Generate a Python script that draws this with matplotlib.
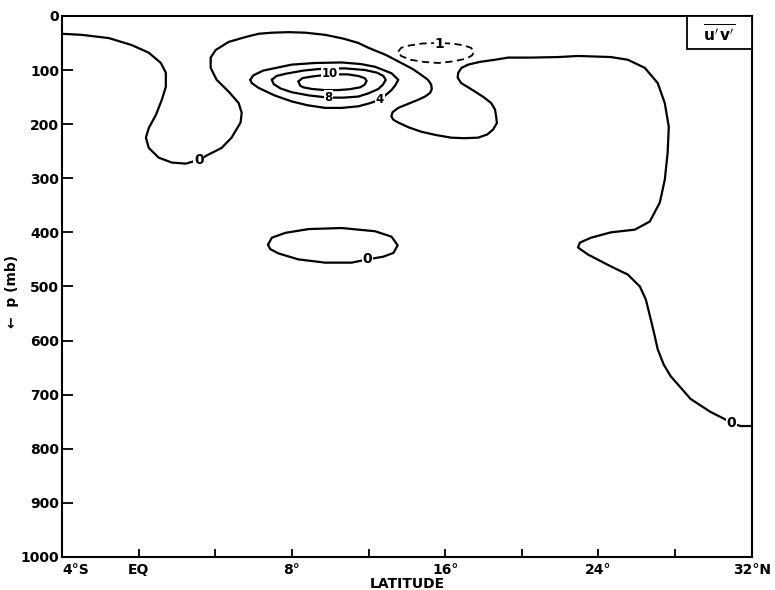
#!/usr/bin/env python3
"""
Meridional cross-section of u'v' (eddy momentum flux), latitude vs pressure
"""
import matplotlib
matplotlib.use('Agg')
import matplotlib.pyplot as plt
from matplotlib.patches import Rectangle

plt.rcParams['font.family'] = ['DejaVu Sans']
plt.rcParams['mathtext.fontset'] = 'dejavusans'

# ── Contour traces: (latitude, pressure mb) ──
zero_main_lat = [-4.0, -2.96, -1.55, -0.35, 0.53, 1.16, 1.42, 1.42, 1.21, 0.9, 0.53, 0.38, 0.53,
                 1.05, 1.73, 2.46, 3.14, 3.66, 4.33, 4.85, 5.32, 5.38, 5.22, 4.7, 4.07, 3.76,
                 3.76, 4.02, 4.7, 5.58, 6.26, 6.94, 7.82, 8.71, 9.75, 10.69, 11.47, 12.0, 12.9,
                 13.71, 14.3, 14.75, 15.1, 15.27, 15.3, 15.22, 14.95, 14.59, 14.1, 13.55, 13.25,
                 13.19, 13.3, 13.55, 14.1, 14.75, 15.5, 16.31, 17.0, 17.72, 18.2, 18.5, 18.7,
                 18.66, 18.6, 18.4, 18.0, 17.56, 17.2, 16.83, 16.65, 16.68, 16.85, 17.2, 17.8,
                 18.6, 19.28, 20.48, 21.9,
                 22.93, 24.65, 25.53, 26.42, 27.09, 27.46, 27.67, 27.61, 27.46, 27.2, 26.68,
                 25.9, 24.65, 23.6, 23.03, 22.93, 23.45, 24.65, 25.53, 26.16, 26.47, 26.73,
                 26.94, 27.09, 27.4, 27.77, 28.81, 29.85, 30.58, 30.95, 31.42, 32.0]
zero_main_p = [33, 35, 41, 54, 68, 87, 105, 131, 155, 183, 207, 225, 244,
               262, 271, 273, 266, 256, 244, 225, 197, 179, 161, 140, 118, 96,
               77, 63, 48, 39, 33, 31, 30, 31, 35, 42, 50, 59, 72,
               87, 98, 109, 118, 127, 135, 142, 149, 155, 162, 170, 178,
               186, 192, 197, 206, 214, 220, 225, 226, 225, 219, 210, 198,
               186, 173, 161, 150, 140, 132, 124, 114, 105, 96, 90, 85,
               81, 77, 77, 76,
               74, 76, 81, 96, 124, 161, 205, 253, 303, 345, 380,
               395, 400, 410, 419, 428, 441, 463, 478, 500, 524, 561,
               592, 616, 644, 666, 708, 732, 745, 753, 758, 758]

zero_cell_lat = [6.75, 6.95, 7.65, 8.86, 10.6, 12.34, 13.2, 13.52, 13.3, 12.77, 11.94,
                 11.12, 9.73, 8.34, 7.3, 6.87, 6.75]
zero_cell_p = [423, 410, 401, 394, 392, 398, 408, 424, 438, 445, 450,
               456, 456, 450, 439, 431, 423]

four_lat = [5.83, 5.98, 6.5, 7.99, 9.2, 10.6, 11.6, 12.34, 13.2, 13.55, 13.4, 13.2, 12.6,
            12.0, 11.47, 10.6, 9.73, 8.8, 7.99, 7.1, 6.26, 5.9, 5.83]
four_p = [118, 110, 101, 90, 87, 86, 89, 94, 106, 118, 128, 137, 155,
          162, 167, 170, 170, 165, 158, 147, 133, 124, 118]

eight_lat = [6.95, 7.2, 7.65, 8.6, 9.73, 10.8, 11.82, 12.45, 12.77, 12.9, 12.75, 12.51, 12.0,
             11.47, 10.7, 9.91, 8.9, 7.99, 7.4, 7.05, 6.95]
eight_p = [118, 111, 107, 101, 97, 97, 100, 105, 111, 118, 127, 135, 143,
           149, 151, 151, 147, 141, 134, 126, 118]

ten_lat = [8.34, 8.55, 9.04, 10.0, 10.9, 11.47, 11.8, 11.9, 11.8, 11.56, 11.0, 10.43, 9.7,
           9.04, 8.6, 8.43, 8.34]
ten_p = [121, 115, 112, 108, 108, 111, 115, 120, 127, 132, 135.5, 137, 137,
         135, 132, 129, 121]

neg_one_lat = [13.55, 13.7, 14.07, 14.8, 15.64, 16.3, 16.94, 17.35, 17.51, 17.4, 17.1, 16.4,
               15.64, 14.9, 14.18, 13.7, 13.55]
neg_one_p = [66, 59, 55, 51, 50, 51, 54, 59, 66, 73, 79, 84, 87, 85, 81, 74, 66]

# contour labels: (text, lat, p)
label_text = ['0', '0', '0', '10', '8', '4', '1']
label_lat = [3.14, 11.94, 30.95, 10.0, 9.91, 12.6, 15.69]
label_p = [266, 450, 753, 106, 151, 155, 51]

lat_ticks = [-4, 0, 4, 8, 12, 16, 20, 24, 28, 32]
lat_ticklabels = ['4°S', 'EQ', '', '8°', '', '16°', '', '24°', '', '32°N']
p_ticks = list(range(0, 1001, 100))

# ── Plot ──
fig = plt.figure(figsize=(7.75, 5.9), dpi=100)
ax = fig.add_axes([0.080, 0.056, 0.890, 0.917])

line_kw = dict(color='black', linewidth=1.6, solid_joinstyle='round', solid_capstyle='round')
for xs, ys in [(zero_main_lat, zero_main_p), (zero_cell_lat, zero_cell_p),
               (four_lat, four_p), (eight_lat, eight_p), (ten_lat, ten_p)]:
    ax.plot(xs, ys, **line_kw)
ax.plot(neg_one_lat, neg_one_p, color='black', linewidth=1.3, linestyle=(0, (4, 2.5)))

for txt, x, y in zip(label_text, label_lat, label_p):
    fs = 10 if txt in ('0', '1') else 8.5
    ax.text(x, y, txt, ha='center', va='center', fontsize=fs, fontweight='bold',
            bbox=dict(facecolor='white', edgecolor='none', pad=0.6), zorder=5)

ax.set_xlim(-4, 32)
ax.set_ylim(1000, 0)
ax.set_xticks(lat_ticks)
ax.set_xticklabels(lat_ticklabels, fontsize=10, fontweight='bold')
ax.get_xticklabels()[0].set_horizontalalignment('left')
ax.set_yticks(p_ticks)
ax.set_yticklabels([str(v) for v in p_ticks], fontsize=10, fontweight='bold')
ax.tick_params(axis='x', direction='in', length=6, width=1.3, pad=4)
ax.tick_params(axis='y', direction='in', length=8, width=1.3, pad=2)
for s in ax.spines.values():
    s.set_linewidth(1.5)

ax.set_xlabel('LATITUDE', fontsize=10, fontweight='bold', labelpad=0)
ax.set_ylabel('←  p (mb)', fontsize=10, fontweight='bold')
ax.yaxis.set_label_coords(-0.062, 0.49)

# boxed field name in the upper-right corner
ax.add_patch(Rectangle((0.906, 0.938), 0.094, 0.062, transform=ax.transAxes,
                       facecolor='white', edgecolor='black', linewidth=1.3, zorder=6))
ax.text(0.953, 0.968, r"$\overline{\mathbf{u^{\prime}\,v^{\prime}}}$", transform=ax.transAxes,
        ha='center', va='center', fontsize=11, zorder=7)

plt.savefig('out.png', dpi=100)
print('Done -> out.png')
